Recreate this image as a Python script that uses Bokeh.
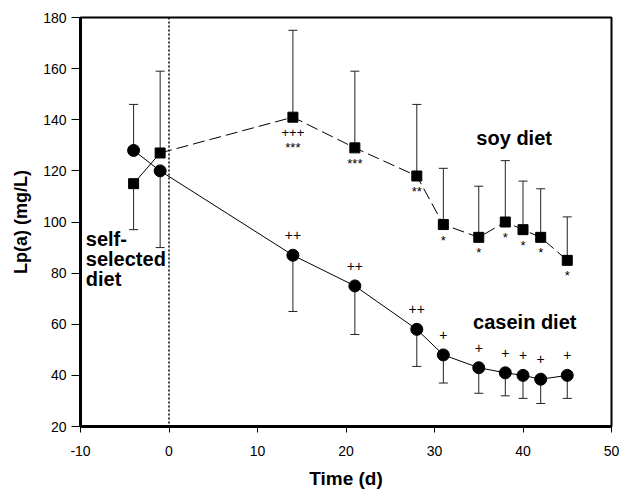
from bokeh.plotting import figure
from bokeh.models import (ColumnDataSource, Range1d, Whisker, TeeHead, Span,
                          FixedTicker)
from bokeh.core.properties import value
from bokeh.embed import file_html
from bokeh.resources import INLINE

# ---------------- data ----------------
days = [-4, -1, 14, 21, 28, 31, 35, 38, 40, 42, 45]
casein = [128, 120, 87, 75, 58, 48, 43, 41, 40, 38.5, 40]
casein_err_end = [146, 90, 65, 56, 43.5, 37, 33, 32, 31, 29, 31]
soy = [115, 127, 141, 129, 118, 99, 94, 100, 97, 94, 85]
soy_err_end = [97, 159, 175, 159, 146, 121, 114, 124, 116, 113, 102]
casein_sig = ["", "", "++", "++", "++", "+", "+", "+", "+", "+", "+"]
soy_sig = ["", "", "+++\n***", "***", "**", "*", "*", "*", "*", "*", "*"]
x_ticks = [-10, 0, 10, 20, 30, 40, 50]
y_ticks = [20, 40, 60, 80, 100, 120, 140, 160, 180]

FONT = value("Liberation Sans")

src_c = ColumnDataSource(dict(x=days, y=casein, e=casein_err_end, s=casein_sig))
src_s = ColumnDataSource(dict(x=days, y=soy, e=soy_err_end, s=soy_sig))

p = figure(width=619, height=491, output_backend="svg", toolbar_location=None,
           x_range=Range1d(-10, 50), y_range=Range1d(20, 180),
           min_border_left=80, min_border_right=8, min_border_top=17,
           min_border_bottom=65)
p.grid.visible = False
p.background_fill_color = "white"
p.border_fill_color = "white"
p.outline_line_color = "black"
p.outline_line_width = 2

# axes
p.xaxis.ticker = FixedTicker(ticks=x_ticks)
p.yaxis.ticker = FixedTicker(ticks=y_ticks)
p.xaxis.major_label_overrides = {t: str(t) for t in x_ticks}
for ax in (p.xaxis, p.yaxis):
    ax.axis_line_width = 3
    ax.axis_line_color = "black"
    ax.major_tick_line_color = "black"
    ax.major_tick_line_width = 1
    ax.minor_tick_line_color = None
    ax.major_tick_in = 0
    ax.major_label_text_font = "Liberation Sans"
    ax.major_label_text_font_size = "14px"
    ax.major_label_text_color = "black"
    ax.axis_label_text_font = "Liberation Sans"
    ax.axis_label_text_font_style = "bold"
    ax.axis_label_text_color = "black"
p.xaxis.major_tick_out = 6
p.yaxis.major_tick_out = 9
p.xaxis.major_label_standoff = 13
p.yaxis.major_label_standoff = 5
p.xaxis.axis_label = "Time (d)"
p.yaxis.axis_label = "Lp(a) (mg/L)"
p.xaxis.axis_label_text_font_size = "19px"
p.yaxis.axis_label_text_font_size = "18px"
p.xaxis.axis_label_standoff = 9
p.yaxis.axis_label_standoff = 9

# dotted line at day 0
p.add_layout(Span(location=0, dimension="height", line_color="black",
                  line_width=1.5, line_dash="2 2"))

# error bars
for src in (src_c, src_s):
    p.add_layout(Whisker(source=src, base="x", lower="y", upper="e",
                         line_color="#222222", line_width=1,
                         lower_head=None,
                         upper_head=TeeHead(size=9, line_color="#222222",
                                            line_width=1)))

# lines
p.line(days, casein, line_color="black", line_width=1)
p.line(days[:2], soy[:2], line_color="black", line_width=1)
p.line(days[1:], soy[1:], line_color="black", line_width=1, line_dash="12 5")

# markers
p.scatter("x", "y", source=src_c, marker="circle", size=12,
          fill_color="black", line_color="black")
p.scatter("x", "y", source=src_s, marker="square", size=10,
          fill_color="black", line_color="black")

# significance marks
p.text("x", "y", text="s", source=src_c, y_offset=-20, text_font=FONT,
       text_font_size="14px", text_align="center", text_baseline="middle",
       text_color="black")
p.text("x", "y", text="s", source=src_s, y_offset=8, text_font=FONT,
       text_font_size="13px", text_align="center", text_baseline="top",
       text_line_height=1.0, text_color="black")

# curve labels
lab = dict(text_font=FONT, text_font_size="20px", text_font_style="bold",
           text_color="black")
p.text(x=[39], y=[133], text=["soy diet"], text_align="center",
       text_baseline="middle", **lab)
p.text(x=[40.2], y=[61], text=["casein diet"], text_align="center",
       text_baseline="middle", **lab)
p.text(x=[-9.4], y=[97.8], text=["self-\nselected\ndiet"], text_align="left",
       text_baseline="top", text_line_height=0.92, **lab)

open("out.html", "w").write(file_html(p, INLINE))
